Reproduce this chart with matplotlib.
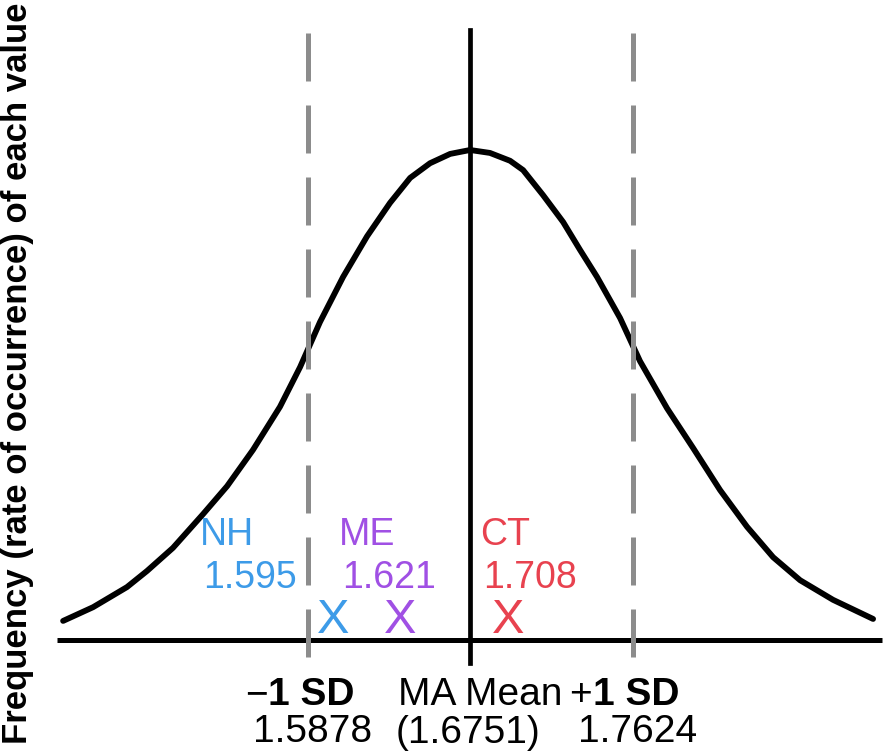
import matplotlib
matplotlib.use("Agg")
import matplotlib.pyplot as plt

# values from the chart
mean = 1.6751
sd_low = 1.5878
sd_high = 1.7624

# bell curve (value, relative frequency)
curve_x = [1.4565, 1.4726, 1.4908, 1.5016, 1.5155, 1.5317, 1.5446, 1.5585,
           1.5730, 1.5838, 1.5945, 1.6069, 1.6198, 1.6321, 1.6429, 1.6536,
           1.6644, 1.6751, 1.6858, 1.6966, 1.7036, 1.7143, 1.7251, 1.7342,
           1.7433, 1.7557, 1.7664, 1.7809, 1.7949, 1.8094, 1.8239, 1.8379,
           1.8524, 1.8701, 1.8916]
curve_y = [0.039, 0.067, 0.108, 0.141, 0.188, 0.257, 0.314, 0.388,
           0.476, 0.557, 0.649, 0.741, 0.824, 0.892, 0.943, 0.973,
           0.992, 1.000, 0.994, 0.978, 0.959, 0.908, 0.853, 0.796,
           0.741, 0.657, 0.569, 0.473, 0.392, 0.306, 0.231, 0.169,
           0.122, 0.082, 0.043]

# state markers
states = ["NH", "ME", "CT"]
state_values = ["1.595", "1.621", "1.708"]
state_colors = ["#3d9be8", "#a050e4", "#e8424f"]

W, H = 885, 756
fig = plt.figure(figsize=(W / 100, H / 100), dpi=100)
ax = fig.add_axes([0, 0, 1, 1])
ax.set_xlim(1.4226, 1.8980)
ax.set_ylim(-0.2367, 1.3061)
ax.axis("off")

plt.rcParams['font.family'] = ['Liberation Sans', 'DejaVu Sans']

def px(x, y):
    return x / W, 1 - y / H

# baseline and curve
ax.plot([1.4532, 1.8964], [0, 0], color="black", lw=3.6, solid_capstyle="butt")
ax.plot(curve_x, curve_y, color="black", lw=4.2, solid_joinstyle="round",
        solid_capstyle="round")

# mean and +-1 SD lines
ax.plot([mean, mean], [1.2449, -0.0469], color="black", lw=3.4)
for v in [sd_low, sd_high]:
    ax.plot([v, v], [1.2388, -0.0408], color="#8c8c8c", lw=3.6,
            linestyle=(0, (9.6, 4.8)))

# state labels and X marks
label_x = [200, 339, 480]
mark_x = [333, 400, 508]
for name, val, col, lx, mx in zip(states, state_values, state_colors, label_x, mark_x):
    ax.text(*px(lx, 545), name, transform=ax.transAxes, color=col,
            fontsize=27, ha="left", va="baseline")
    ax.text(*px(lx + 3, 588), val, transform=ax.transAxes, color=col,
            fontsize=27, ha="left", va="baseline")
    ax.text(*px(mx, 633), "X", transform=ax.transAxes, color=col,
            fontsize=35, ha="center", va="baseline")

# bottom labels
fs = 28
ax.text(*px(268, 705), "\u2212", transform=ax.transAxes, fontsize=fs,
        ha="right", va="baseline")
ax.text(*px(268, 705), "1 SD", transform=ax.transAxes, fontsize=fs,
        fontweight="bold", ha="left", va="baseline")
ax.text(*px(313, 742), "%.4f" % sd_low, transform=ax.transAxes, fontsize=fs,
        ha="center", va="baseline")

ax.text(*px(480, 705), "MA Mean", transform=ax.transAxes, fontsize=fs,
        ha="center", va="baseline")
ax.text(*px(468, 743), "(%.4f)" % mean, transform=ax.transAxes, fontsize=fs,
        ha="center", va="baseline")

ax.text(*px(592, 705), "+", transform=ax.transAxes, fontsize=fs,
        ha="right", va="baseline")
ax.text(*px(593, 705), "1 SD", transform=ax.transAxes, fontsize=fs,
        fontweight="bold", ha="left", va="baseline")
ax.text(*px(638, 742), "%.4f" % sd_high, transform=ax.transAxes, fontsize=fs,
        ha="center", va="baseline")

# y axis title
fig.text(18 / W, 1 - 373 / H, "Frequency (rate of occurrence) of each value",
         rotation=90, fontsize=25, fontweight="bold", ha="center", va="center")

fig.savefig("out.png", dpi=100, facecolor="white")
